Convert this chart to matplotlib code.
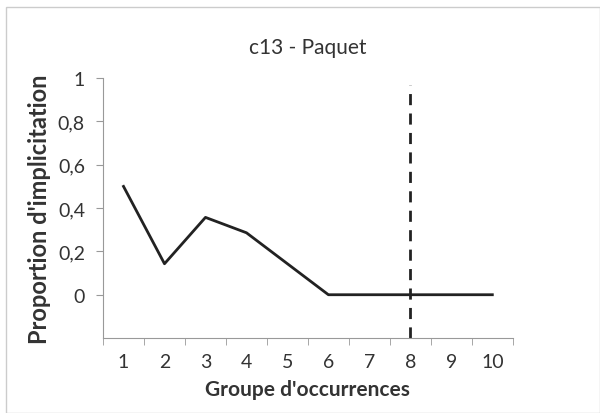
import matplotlib.pyplot as plt
from matplotlib.patches import Rectangle

plt.rcParams['font.family'] = ['Lato', 'DejaVu Sans']

groups = [1, 2, 3, 4, 5, 6, 7, 8, 9, 10]
proportion = [0.5, 0.143, 0.357, 0.286, 0.143, 0, 0, 0, 0, 0]
y_ticks = [0, 0.2, 0.4, 0.6, 0.8, 1]
y_labels = ['0', '0,2', '0,4', '0,6', '0,8', '1']
cut_group = 8

fig = plt.figure(figsize=(6, 4.14), dpi=100)
ax = fig.add_axes([0.1717, 0.181, 0.683, 0.628])

ax.plot(groups, proportion, color='#222222', linewidth=2)
ax.plot([cut_group, cut_group], [-0.2, 0.97], color='#222222', linewidth=2, linestyle=(0, (4, 3)))

ax.set_xlim(0.5, 10.5)
ax.set_ylim(-0.2, 1)
ax.set_yticks(y_ticks)
ax.set_yticklabels(y_labels)
ax.set_xticks(groups)
ax.set_xticklabels([str(g) for g in groups])
ax.set_xticks([g + 0.5 for g in [0] + groups], minor=True)
ax.tick_params(axis='x', which='major', length=0, pad=11, labelsize=14, labelcolor='#333333')
ax.tick_params(axis='x', which='minor', length=5, color='#999999', direction='out')
ax.tick_params(axis='y', length=5, color='#999999', labelsize=14, labelcolor='#333333', pad=8)

for side in ['top', 'right']:
    ax.spines[side].set_visible(False)
for side in ['left', 'bottom']:
    ax.spines[side].set_color('#999999')

ax.set_title('c13 - Paquet', fontsize=15, color='#333333', pad=18)
ax.set_xlabel("Groupe d'occurrences", fontsize=15, fontweight='bold', color='#333333', labelpad=6)
ax.set_ylabel("Proportion d'implicitation", fontsize=17, fontweight='bold', color='#333333', labelpad=5)

# outer chart border
fig.patches.append(Rectangle((0.01, 0.0), 0.99, 0.98, transform=fig.transFigure,
                             fill=False, edgecolor='#cccccc', linewidth=1))

fig.savefig('out.png', dpi=100)
